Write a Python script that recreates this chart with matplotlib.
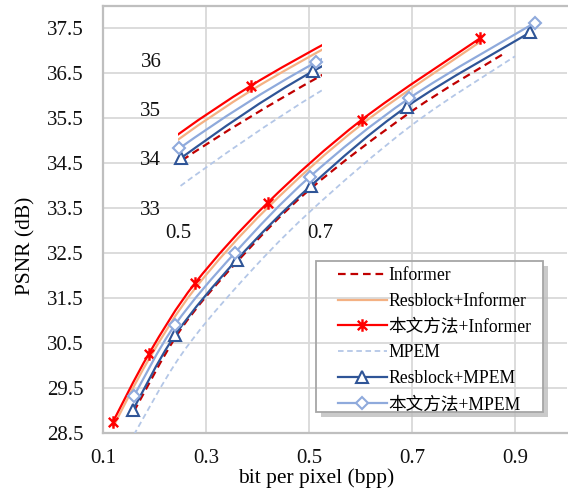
import numpy as np
import matplotlib
matplotlib.use('Agg')
import matplotlib.pyplot as plt
from matplotlib.path import Path
from matplotlib.patches import PathPatch, Rectangle
from matplotlib.lines import Line2D

plt.rcParams['font.family'] = ['Liberation Serif', 'Noto Sans CJK SC']
plt.rcParams['lines.scale_dashes'] = False

# ---------------- data ----------------
series_names = ['Informer', 'Resblock+Informer', '本文方法+Informer',
                'MPEM', 'Resblock+MPEM', '本文方法+MPEM']

informer_bpp = [0.16, 0.25, 0.36, 0.50, 0.70, 0.88]
informer_psnr = [28.97, 30.78, 32.30, 33.90, 35.66, 36.95]

res_inf_bpp = [0.119, 0.189, 0.279, 0.420, 0.603, 0.832]
res_inf_psnr = [28.61, 30.13, 31.71, 33.51, 35.37, 37.20]

our_inf_bpp = [0.119, 0.189, 0.279, 0.420, 0.603, 0.832]
our_inf_psnr = [28.73, 30.25, 31.83, 33.62, 35.47, 37.28]

mpem_bpp = [0.16, 0.25, 0.36, 0.50, 0.70, 0.90]
mpem_psnr = [28.45, 30.20, 31.75, 33.40, 35.35, 36.88]

res_mpem_bpp = [0.158, 0.240, 0.360, 0.504, 0.690, 0.929]
res_mpem_psnr = [29.00, 30.67, 32.35, 34.00, 35.76, 37.41]

our_mpem_bpp = [0.160, 0.240, 0.356, 0.502, 0.694, 0.939]
our_mpem_psnr = [29.31, 30.90, 32.50, 34.20, 35.94, 37.63]

x_ticks = [0.1, 0.3, 0.5, 0.7, 0.9]
y_ticks = [28.5, 29.5, 30.5, 31.5, 32.5, 33.5, 34.5, 35.5, 36.5, 37.5]
inset_x_ticks = [0.5, 0.7]
inset_y_ticks = [33, 34, 35, 36]

# ---------------- styles ----------------
star = Path([(0, -1), (0, 1), (-0.75, -0.75), (0.75, 0.75), (-0.75, 0.75), (0.75, -0.75)],
            [Path.MOVETO, Path.LINETO, Path.MOVETO, Path.LINETO, Path.MOVETO, Path.LINETO])

styles = [
    dict(color='#C00000', lw=1.6, dashes=(5.5, 3.5), marker=None),
    dict(color='#F4B183', lw=1.6, dashes=None, marker=None),
    dict(color='#FF0000', lw=1.6, dashes=None, marker=star, ms=9, mew=1.7, mfc='#FF0000'),
    dict(color='#B4C7E7', lw=1.3, dashes=(4.0, 2.6), marker=None),
    dict(color='#2F5597', lw=1.6, dashes=None, marker='^', ms=8, mew=1.5, mfc='white'),
    dict(color='#8FAADC', lw=1.6, dashes=None, marker='D', ms=6, mew=1.5, mfc='white'),
]
data = [(informer_bpp, informer_psnr), (res_inf_bpp, res_inf_psnr),
        (our_inf_bpp, our_inf_psnr), (mpem_bpp, mpem_psnr),
        (res_mpem_bpp, res_mpem_psnr), (our_mpem_bpp, our_mpem_psnr)]


def smooth_path(x, y):
    pts = np.column_stack([x, y]).astype(float)
    n = len(pts)
    verts = [pts[0]]
    codes = [Path.MOVETO]
    for i in range(n - 1):
        p0 = pts[i - 1] if i > 0 else pts[i]
        p1 = pts[i]
        p2 = pts[i + 1]
        p3 = pts[i + 2] if i + 2 < n else pts[i + 1]
        c1 = p1 + (p2 - p0) / 6.0
        c2 = p2 - (p3 - p1) / 6.0
        verts += [c1, c2, p2]
        codes += [Path.CURVE4] * 3
    return Path(verts, codes)


def draw_series(ax, xr=None, zbase=3):
    for k, ((x, y), st) in enumerate(zip(data, styles)):
        ls = '-' if st['dashes'] is None else (0, st['dashes'])
        patch = PathPatch(smooth_path(x, y), fill=False, edgecolor=st['color'],
                          lw=st['lw'], linestyle=ls, zorder=zbase + 2 * k,
                          capstyle='butt')
        ax.add_patch(patch)
        if st['marker'] is not None:
            xs = np.array(x)
            ys = np.array(y)
            if xr is not None:
                m = (xs >= xr[0]) & (xs <= xr[1])
                xs, ys = xs[m], ys[m]
            ax.plot(xs, ys, linestyle='none', marker=st['marker'], ms=st['ms'],
                    mew=st['mew'], mec=st['color'], mfc=st['mfc'],
                    zorder=zbase + 2 * k + 1, clip_on=(xr is None))


W, H = 568, 490
fig = plt.figure(figsize=(W / 100, H / 100), dpi=100)

# main axes
L, R, T, B = 103, 566.5, 6, 432.5
ax = fig.add_axes([L / W, 1 - B / H, (R - L) / W, (B - T) / H])
ax.set_xlim(0.1, 1.0)
ax.set_ylim(28.5, 38.0)
ax.set_xticks(x_ticks)
ax.set_yticks(y_ticks)
ax.set_xticklabels([f'{v:.1f}' for v in x_ticks])
ax.set_yticklabels([f'{v:.1f}' for v in y_ticks])
ax.tick_params(axis='both', length=0, labelsize=15, colors='#111111')
ax.tick_params(axis='y', pad=14)
ax.tick_params(axis='x', pad=12)
ax.set_axisbelow(True)
ax.grid(True, color='#D9D9D9', lw=1.3)
for s in ['left', 'bottom', 'top']:
    ax.spines[s].set_color('#BFBFBF')
    ax.spines[s].set_linewidth(1.6)
ax.spines['right'].set_visible(False)

ax.set_xlabel('bit per pixel (bpp)', fontsize=15.5, va='center')
ax.xaxis.set_label_coords((316 - L) / (R - L), (B - 478) / (B - T))
ax.set_ylabel('PSNR (dB)', fontsize=15.5, va='center')
ax.yaxis.set_label_coords((26 - L) / (R - L), (B - 246) / (B - T))

draw_series(ax)

# inset (zoomed view)
iL, iR, iB = 178, 322, 207.5
ix0, ix1 = 0.5, 0.703
iy0, iy1 = 33.0, 36.4
ppd = 49.33
iT = iB - (iy1 - iy0) * ppd
ax2 = fig.add_axes([iL / W, 1 - iB / H, (iR - iL) / W, (iB - iT) / H])
ax2.set_xlim(ix0, ix1)
ax2.set_ylim(iy0, iy1)
ax2.patch.set_visible(False)
for s in ax2.spines.values():
    s.set_visible(False)
ax2.set_xticks(inset_x_ticks)
ax2.set_yticks(inset_y_ticks)
ax2.set_xticklabels([f'{v:.1f}' for v in inset_x_ticks])
ax2.set_yticklabels([f'{v:d}' for v in inset_y_ticks])
ax2.tick_params(axis='both', length=0, labelsize=15, colors='#111111')
ax2.tick_params(axis='y', pad=12)
ax2.tick_params(axis='x', pad=12)
draw_series(ax2, xr=(ix0, ix1 + 1e-9))

# legend
handles = []
for st in styles:
    ls = '-' if st['dashes'] is None else (0, st['dashes'])
    if st['marker'] is None:
        h = Line2D([], [], color=st['color'], lw=st['lw'], linestyle=ls)
    else:
        h = Line2D([], [], color=st['color'], lw=st['lw'], linestyle=ls,
                   marker=st['marker'], ms=st['ms'], mew=st['mew'],
                   mec=st['color'], mfc=st['mfc'])
    handles.append(h)

fig.legend(handles, series_names, loc='upper left',
           bbox_to_anchor=(338 / W, 1 - 267 / H), frameon=False,
           fontsize=12.7, handlelength=2.75, handletextpad=0.1,
           labelspacing=0.5, borderpad=0.0,
           borderaxespad=0.0, numpoints=1)

lx0, ly0, lx1, ly1 = 316, 261, 543, 412
fig.patches.append(Rectangle((lx1 / W, 1 - (ly1 + 5) / H), 5 / W, (ly1 - ly0) / H,
                             transform=fig.transFigure, facecolor='#BDBDBD',
                             edgecolor='none', alpha=0.8, zorder=2))
fig.patches.append(Rectangle(((lx0 + 5) / W, 1 - (ly1 + 5) / H), (lx1 - lx0 - 5) / W, 5 / H,
                             transform=fig.transFigure, facecolor='#BDBDBD',
                             edgecolor='none', alpha=0.8, zorder=2))
fig.patches.append(Rectangle((lx0 / W, 1 - ly1 / H), (lx1 - lx0) / W, (ly1 - ly0) / H,
                             transform=fig.transFigure, facecolor='none',
                             edgecolor='#A6A6A6', lw=1.3, zorder=3))

fig.savefig('out.png', dpi=100)
